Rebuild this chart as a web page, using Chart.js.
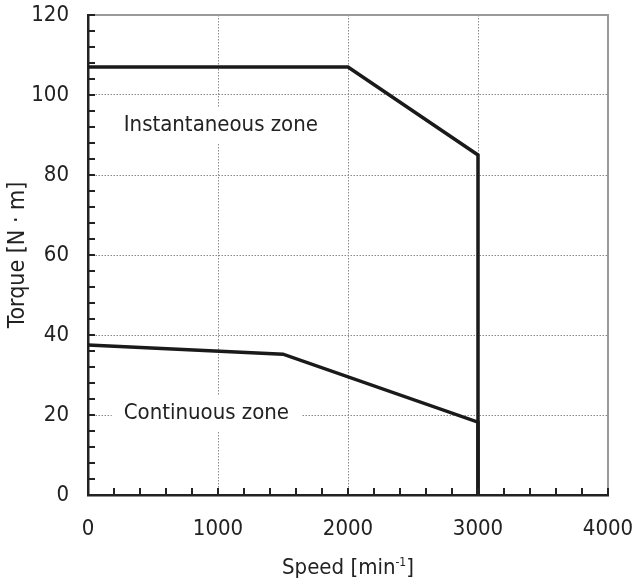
<!DOCTYPE html>
<html>
<head>
<meta charset="utf-8">
<script src="https://cdn.jsdelivr.net/npm/chart.js@4/dist/chart.umd.min.js"></script>
<style>
  html, body { margin: 0; padding: 0; background: #fff; }
  #wrap { width: 634px; height: 581px; position: relative; }
</style>
</head>
<body>
<div id="wrap"><canvas id="torqueChart"></canvas></div>
<script>
// values
const instSpeed = [0, 2000, 3000, 3000];
const instTorque = [107, 107, 85, 0];
const contSpeed = [0, 1500, 3000, 3000];
const contTorque = [37.5, 35.2, 18.2, 0];
const zoneLabels = ['Instantaneous zone', 'Continuous zone'];
const zoneAnchors = [[275, 92.5], [275, 20.5]];
const xTitle = ['Speed [min', '-1', ']'];

const FONT = "'Liberation Sans Narrow', 'DejaVu Sans Condensed', 'Roboto Condensed', sans-serif";

const toPoints = (xs, ys) => xs.map((x, i) => ({ x, y: ys[i] }));

const lineStyle = { showLine: true, borderColor: '#1a1a1a', backgroundColor: '#1a1a1a', borderWidth: 3.5, pointRadius: 0, fill: false };

// gray frame on top/right, white-boxed zone labels, inward minor ticks, x title with superscript
const decor = {
    id: 'decor',
    beforeDatasetsDraw(chart) {
        const { ctx, chartArea: a, scales: { x, y } } = chart;
        ctx.save();
        ctx.strokeStyle = '#9a9a9a';
        ctx.lineWidth = 2;
        ctx.beginPath();
        ctx.moveTo(a.left, a.top);
        ctx.lineTo(a.right, a.top);
        ctx.lineTo(a.right, a.bottom);
        ctx.stroke();

        ctx.font = '22px ' + FONT;
        ctx.textBaseline = 'middle';
        zoneLabels.forEach((txt, i) => {
            const px = x.getPixelForValue(zoneAnchors[i][0]);
            const py = y.getPixelForValue(zoneAnchors[i][1]);
            const w = ctx.measureText(txt).width;
            ctx.fillStyle = '#fff';
            ctx.fillRect(px - 12, py - 18, w + 24, 36);
            ctx.fillStyle = '#222';
            ctx.fillText(txt, px, py);
        });
        ctx.restore();
    },
    afterDraw(chart) {
        const { ctx, chartArea: a, scales: { x, y } } = chart;
        ctx.save();
        ctx.strokeStyle = '#222';
        ctx.lineWidth = 2;
        ctx.beginPath();
        x.ticks.forEach(t => {
            const px = x.getPixelForValue(t.value);
            ctx.moveTo(px, a.bottom);
            ctx.lineTo(px, a.bottom - 7);
        });
        y.ticks.forEach(t => {
            const py = y.getPixelForValue(t.value);
            ctx.moveTo(a.left, py);
            ctx.lineTo(a.left + 7, py);
        });
        ctx.stroke();

        // axis title: "Speed [min" + superscript "-1" + "]"
        const big = '22px ' + FONT, small = '12px ' + FONT;
        ctx.fillStyle = '#222';
        ctx.textBaseline = 'alphabetic';
        ctx.font = big;
        const w0 = ctx.measureText(xTitle[0]).width, w2 = ctx.measureText(xTitle[2]).width;
        ctx.font = small;
        const w1 = ctx.measureText(xTitle[1]).width;
        let cx = (a.left + a.right) / 2 - (w0 + w1 + w2) / 2;
        const base = chart.height - 7;
        ctx.font = big; ctx.fillText(xTitle[0], cx, base); cx += w0;
        ctx.font = small; ctx.fillText(xTitle[1], cx, base - 8); cx += w1;
        ctx.font = big; ctx.fillText(xTitle[2], cx, base);
        ctx.restore();
    }
};

const gridColor = major => ctx => {
    const v = ctx.tick.value;
    return v % major === 0 && v !== 0 && v !== ctx.scale.max ? '#8a8a8a' : 'transparent';
};

new Chart(document.getElementById('torqueChart'), {
    type: 'scatter',
    data: {
        datasets: [
            { label: 'Instantaneous', data: toPoints(instSpeed, instTorque), ...lineStyle },
            { label: 'Continuous', data: toPoints(contSpeed, contTorque), ...lineStyle }
        ]
    },
    options: {
        responsive: true,
        maintainAspectRatio: false,
        animation: false,
        layout: { padding: { top: 15, right: 26, left: 0, bottom: 0 } },
        plugins: { legend: { display: false }, tooltip: { enabled: false } },
        scales: {
            x: {
                type: 'linear', min: 0, max: 4000,
                afterFit: s => { s.height = 86; s.paddingLeft = 0; s.paddingRight = 0; },
                ticks: {
                    stepSize: 200, padding: 21, autoSkip: false, maxRotation: 0,
                    color: '#222', font: { family: FONT, size: 22 },
                    callback: v => v % 1000 === 0 ? v : ''
                },
                grid: { drawTicks: false, color: gridColor(1000), lineWidth: 1 },
                border: { color: '#222', width: 2.5, dash: [1.5, 1.5] },
                title: { display: false }
            },
            y: {
                type: 'linear', min: 0, max: 120,
                afterFit: s => { s.width = 88; s.paddingTop = 0; s.paddingBottom = 0; },
                ticks: {
                    stepSize: 4, padding: 19, autoSkip: false,
                    color: '#222', font: { family: FONT, size: 22 },
                    callback: v => v % 20 === 0 ? v : ''
                },
                grid: { drawTicks: false, color: gridColor(20), lineWidth: 1 },
                border: { color: '#222', width: 2.5, dash: [1.5, 1.5] },
                title: { display: true, text: 'Torque [N · m]', color: '#222', font: { family: FONT, size: 23 }, padding: { top: 4, bottom: 0 } }
            }
        }
    },
    plugins: [decor]
});
</script>
</body>
</html>
